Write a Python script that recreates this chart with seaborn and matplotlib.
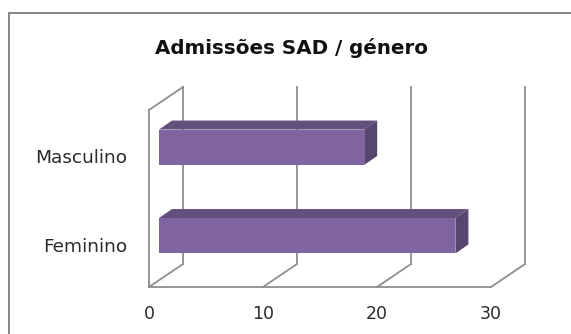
import matplotlib
matplotlib.use("Agg")
import matplotlib.pyplot as plt
from matplotlib.patches import Polygon, Rectangle
from matplotlib.transforms import Affine2D
import pandas as pd
import seaborn as sns

# Values
categories = ["Masculino", "Feminino"]
admissions = [18, 26]
value_ticks = [0, 10, 20, 30]
title = "Admissões SAD / género"

FRONT = "#8064A2"
TOP = "#624F7C"
SIDE = "#584570"
GRID = "#8E8E8E"
TEXT = "#2B2B2B"
WIDTH, HEIGHT = 571, 334

sns.set_theme(style="white")
plt.rcParams["font.family"] = ["DejaVu Sans"]

fig = plt.figure(figsize=(WIDTH / 100, HEIGHT / 100), dpi=100, facecolor="white")
ax = fig.add_axes([149 / WIDTH, 1 - 287 / HEIGHT, 342 / WIDTH, 177 / HEIGHT])
ax.patch.set_alpha(0)

df = pd.DataFrame({"genero": categories, "admissoes": admissions})
sns.barplot(data=df, y="genero", x="admissoes", order=categories, color=FRONT,
            saturation=1, width=0.40, ax=ax, zorder=4, linewidth=0)
ax.set_xlim(0, 30)
ax.set_ylim(1.5, -0.5)
ax.set_xlabel("")
ax.set_ylabel("")
sns.despine(ax=ax, left=True, bottom=True)

# Pixels to data units, for the oblique depth of the pseudo-3D view
ux = 30 / 342
uy = 2 / 177


def skew(x, y, px, py):
    """Shift a data point by a depth given in pixels (right, up)."""
    return x + px * ux, y - py * uy


WALL = (34, 23)
BAR_NEAR = (10, 7)
BAR_FAR = (23, 16)

# Wall and floor outline
line = dict(color=GRID, lw=1.3, clip_on=False, zorder=1, solid_capstyle="projecting")
ax.plot([0, 30], [1.5, 1.5], **line)
ax.plot([0, 0], [-0.5, 1.5], **line)
x_top, y_top = skew(0, -0.5, *WALL)
ax.plot([0, x_top], [-0.5, y_top], **line)
for v in value_ticks:
    bx, by = skew(v, 1.5, *WALL)
    tx, ty = skew(v, -0.5, *WALL)
    ax.plot([v, bx], [1.5, by], **line)
    ax.plot([bx, tx], [by, ty], **line)

# Bars: shift each front face into the depth and add top and side faces
for bar, value in zip(ax.patches, admissions):
    y0 = bar.get_y()
    y1 = y0 + bar.get_height()
    bar.set_transform(ax.transData + Affine2D().translate(*BAR_NEAR))
    bar.set_clip_on(False)
    top = [skew(0, y0, *BAR_NEAR), skew(value, y0, *BAR_NEAR),
           skew(value, y0, *BAR_FAR), skew(0, y0, *BAR_FAR)]
    side = [skew(value, y0, *BAR_NEAR), skew(value, y1, *BAR_NEAR),
            skew(value, y1, *BAR_FAR), skew(value, y0, *BAR_FAR)]
    ax.add_patch(Polygon(top, closed=True, fc=TOP, ec="none", clip_on=False, zorder=3))
    ax.add_patch(Polygon(side, closed=True, fc=SIDE, ec="none", clip_on=False, zorder=3))

# Axis labels
ax.set_xticks(value_ticks)
ax.set_xticklabels([str(v) for v in value_ticks])
ax.tick_params(axis="x", length=0, pad=13, labelsize=12.5, labelcolor=TEXT)
ax.tick_params(axis="y", length=0, pad=16, labelsize=13.3, labelcolor=TEXT)
for lab in ax.get_yticklabels():
    lab.set_transform(lab.get_transform() + Affine2D().translate(0, -2))

fig.text(291 / WIDTH, 1 - 48 / HEIGHT, title, fontsize=14.3, fontweight="bold",
         color="#111111", ha="center", va="center")

# Chart frame running off the right and bottom of the image
fig.add_artist(Rectangle((8.5 / WIDTH, -0.1), 1.2, 1 - 13.5 / HEIGHT + 0.1,
                         transform=fig.transFigure, fc="none", ec="#868686", lw=1.4))

fig.savefig("out.png", dpi=100)
